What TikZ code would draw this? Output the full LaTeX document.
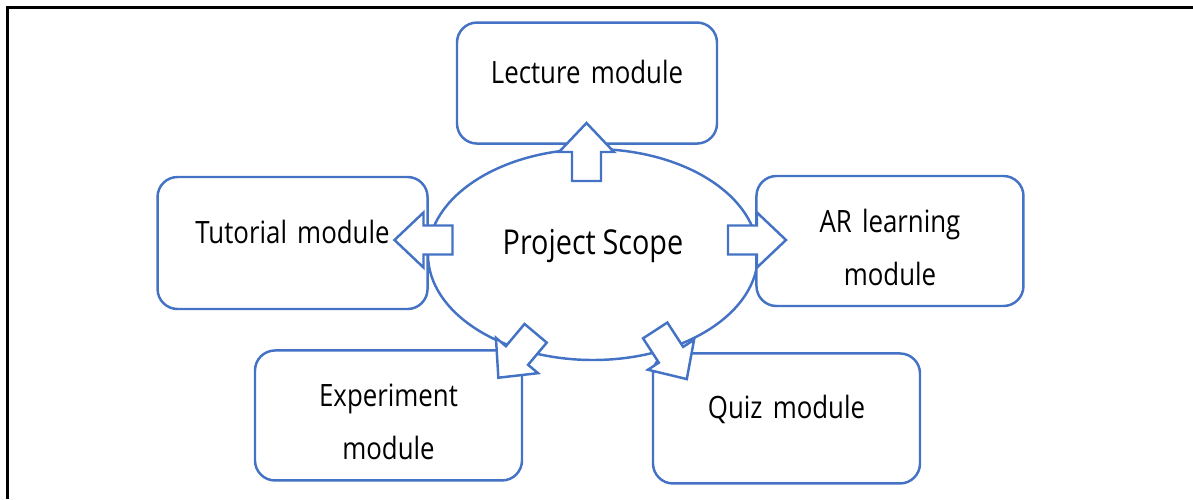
\documentclass[tikz,border=0pt]{standalone}
\usepackage{fontspec}
\setmainfont{Open Sans}[FakeStretch=0.84, WordSpace=0.9]
\usetikzlibrary{positioning, shapes.geometric}
\definecolor{mBlue}{RGB}{68,114,196}

\begin{document}
\begin{tikzpicture}[
  module/.style={draw=mBlue, line width=1.4pt, rounded corners=0.4cm, fill=white,
    minimum width=5.34cm, minimum height=2.6cm, inner sep=0pt, text width=4.8cm, align=center,
    text height=0.35cm, text depth=0.35cm, font=\fontsize{17.5}{30.4}\selectfont},
  twoline/.style={text height=0.35cm, text depth=0.71cm},
  blockarrow/.style={draw=mBlue, line width=1.4pt, fill=white, line join=miter}
]
  \useasboundingbox (0,0) rectangle (23.86,-9.98);
  \draw[line width=1.6pt] (0.15,-9.98) -- (0.15,-0.15) -- (23.86,-0.15);
  \node[ellipse, draw=mBlue, line width=1.4pt, minimum width=6.6cm, minimum height=4.22cm, inner sep=0pt,
    text height=0.35cm, text depth=0.35cm, font=\fontsize{19.5}{24}\selectfont] (scope) at (11.86,-5.09) {Project Scope};
  \node[module, above=0.06cm of scope, xshift=-0.12cm, minimum width=5.2cm, minimum height=2.42cm] (lecture) {Lecture module};
  \node[module, left=-0.04cm of scope, yshift=0.23cm, minimum width=5.4cm, minimum height=2.64cm] (tutorial) {Tutorial module};
  \node[module, twoline, right=-0.08cm of scope, yshift=0.27cm] (ar) {AR learning\\module};
  \node[module, twoline, below=-0.24cm of scope, xshift=-4.09cm] (experiment) {Experiment\\module};
  \node[module, below=-0.18cm of scope, xshift=3.87cm] (quiz) {Quiz module};
  \foreach \x/\y/\ang in {11.73/-3.04/90, 8.47/-4.80/180, 15.14/-4.80/0, 10.34/-7.11/230, 13.42/-7.095/-57}
    \draw[blockarrow, shift={(\x,\y)}, rotate=\ang]
      (-0.58,-0.29) -- (0,-0.29) -- (0,-0.55) -- (0.58,0) -- (0,0.55) -- (0,0.29) -- (-0.58,0.29) -- cycle;
\end{tikzpicture}
\end{document}
